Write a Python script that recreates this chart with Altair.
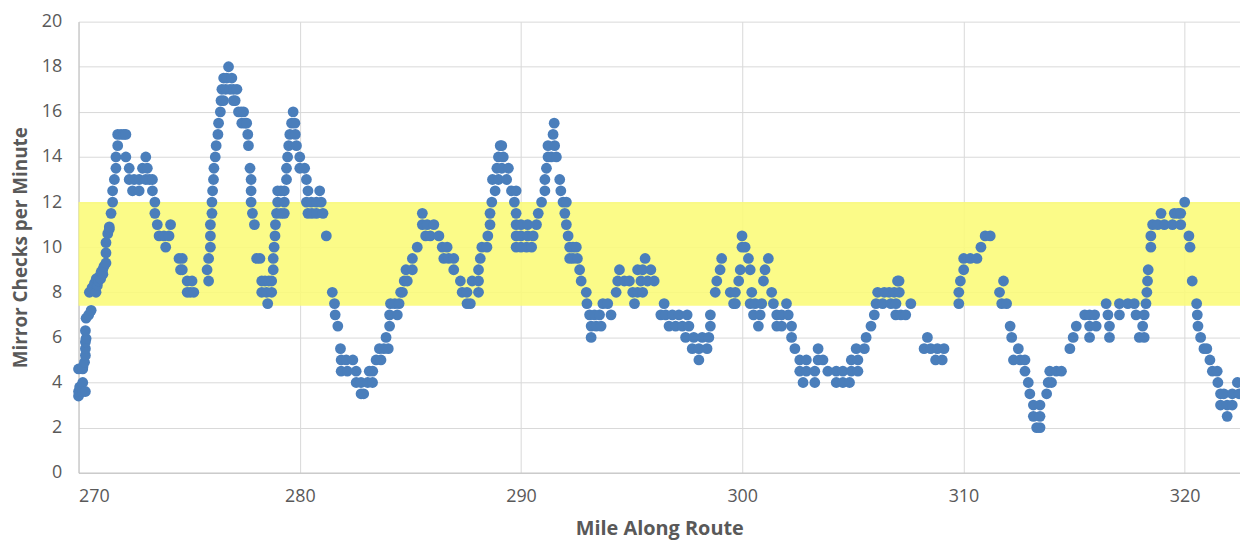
import altair as alt
import pandas as pd

# ---- data ----
x_vals = [
    # 270 - 271.6
    270.00, 270.00, 270.05, 270.19, 270.19, 270.31, 270.00, 270.19, 270.20, 270.27, 270.31, 270.31,
    270.31, 270.34, 270.31, 270.34, 270.46, 270.57, 270.49, 270.61, 270.72, 270.79, 270.80, 270.85,
    270.90, 270.94, 271.00, 271.02, 271.09, 271.10, 271.15, 271.24, 271.24, 271.24, 271.32, 271.39,
    271.39, 271.47, 271.54,
    # 271.5 - 275.2
    271.54, 271.62, 271.69, 271.69, 271.77, 271.77, 271.92, 272.05, 272.14, 272.14, 272.29, 272.29,
    272.44, 272.51, 272.74, 272.74, 272.89, 273.04, 273.11, 273.04, 273.20, 273.34, 273.34, 273.45,
    273.45, 273.56, 273.64, 273.86, 273.94, 274.09, 274.16, 274.54, 274.69, 274.61, 274.69, 274.91,
    275.13, 274.91, 275.05, 275.21,
    # 275.8 - 281.2
    275.88, 275.81, 275.88, 275.96, 275.96, 275.96, 276.03, 276.03, 276.06, 276.10, 276.12, 276.18,
    276.22, 276.30, 276.33, 276.41, 276.44, 276.48, 276.56, 276.78, 276.70, 276.93, 276.65, 276.85,
    277.00, 277.16, 276.55, 277.08, 277.00, 277.23, 277.35, 277.46, 277.38, 277.53, 277.60, 277.65,
    277.68, 277.75, 277.80, 277.80, 277.80, 277.86, 277.95, 278.05, 278.20, 278.28, 278.43, 278.28,
    278.50, 278.55, 278.73, 278.60, 278.73, 278.80, 278.80, 278.84, 278.88, 278.90, 278.95, 279.00,
    279.00, 279.15, 279.30, 279.30, 279.30, 279.15, 279.40, 279.40, 279.45, 279.50, 279.55, 279.63,
    279.70, 279.78, 279.80, 279.85, 280.00, 280.00, 280.22, 280.30, 280.37, 280.30, 280.52, 280.75,
    280.97, 280.37, 280.55, 280.75, 281.05, 280.90, 281.20,
    # 281.4 - 284.8
    281.47, 281.57, 281.60, 281.72, 281.84, 281.87, 282.10, 282.40, 281.87, 282.15, 282.55, 282.55,
    282.77, 283.07, 283.29, 282.77, 282.89, 283.14, 283.30, 283.45, 283.67, 283.60, 283.80, 284.00,
    283.90, 284.06, 284.06, 284.41, 284.10, 284.30, 284.49, 284.56, 284.72, 284.80,
    # 284.6 - 292.2
    284.64, 284.86, 285.09, 285.09, 285.31, 285.54, 285.54, 285.76, 286.06, 285.69, 285.90, 286.29,
    286.44, 286.66, 286.51, 286.73, 286.96, 286.96, 287.26, 287.34, 287.56, 287.71, 287.56, 287.79,
    288.08, 288.08, 288.08, 288.16, 288.23, 288.46, 288.50, 288.60, 288.60, 288.68, 288.83, 288.71,
    288.98, 288.91, 289.13, 289.43, 288.98, 289.20, 289.06, 289.13, 289.35, 289.57, 289.78, 289.70,
    289.78, 289.78, 289.78, 289.78, 290.00, 290.25, 290.48, 290.00, 290.30, 290.55, 290.00, 290.30,
    290.70, 290.78, 290.93, 291.08, 291.08, 291.15, 291.22, 291.37, 291.60, 291.22, 291.52, 291.45,
    291.50, 291.75, 291.80, 291.90, 292.05, 291.98, 292.05, 292.13, 292.20, 292.20,
    # 292.3 - 299.6
    292.35, 292.50, 292.35, 292.55, 292.65, 292.72, 292.95, 292.98, 293.10, 293.32, 293.55, 293.70,
    293.92, 294.07, 293.17, 293.40, 293.62, 293.17, 294.30, 294.37, 294.45, 294.67, 294.90, 295.05,
    295.13, 295.27, 295.50, 295.27, 295.50, 295.87, 295.61, 295.42, 295.72, 296.02, 296.47, 296.32,
    296.54, 296.84, 297.14, 297.51, 296.69, 296.99, 297.29, 297.59, 297.44, 297.81, 298.19, 298.49,
    297.74, 298.04, 298.41, 298.04, 298.56, 298.56, 298.78, 298.85, 299.00, 299.07, 299.46, 299.61,
    # 299.7 - 307.0
    299.69, 299.69, 299.84, 299.91, 299.99, 299.99, 300.13, 300.28, 300.36, 300.43, 300.36, 300.58,
    300.88, 300.51, 300.81, 300.73, 300.96, 301.03, 301.18, 301.33, 301.41, 301.56, 301.78, 302.08,
    301.56, 301.78, 302.00, 302.23, 302.23, 302.38, 302.60, 302.90, 303.43, 303.43, 303.65, 302.60,
    302.90, 303.28, 302.75, 303.28, 303.87, 304.25, 304.55, 304.93, 305.23, 304.25, 304.55, 304.85,
    304.93, 305.23, 305.15, 305.52, 305.60, 305.82, 305.97, 306.05, 306.12, 306.42, 306.64, 306.87,
    306.35, 306.72, 306.94, 307.02,
    # 307.1 - 314.4
    307.09, 307.10, 306.95, 307.17, 307.39, 307.62, 308.37, 308.22, 308.52, 308.82, 309.12, 308.74,
    309.04, 309.79, 309.79, 309.86, 310.01, 310.01, 310.31, 310.61, 310.79, 310.98, 311.21, 311.63,
    311.81, 311.73, 311.95, 312.11, 312.18, 312.48, 312.26, 312.56, 312.78, 312.78, 312.93, 313.00,
    313.16, 313.46, 313.16, 313.46, 313.31, 313.46, 313.76, 313.83, 313.98, 313.90, 314.20, 314.43,
    # 314.8 - 322.5
    314.81, 314.96, 315.10, 315.48, 315.70, 315.93, 315.70, 315.70, 316.00, 316.45, 316.53, 316.60,
    316.60, 317.05, 317.05, 317.43, 317.72, 317.80, 317.95, 318.17, 318.10, 318.17, 318.25, 318.29,
    318.32, 318.35, 318.47, 318.47, 318.55, 318.78, 319.08, 319.45, 319.82, 318.93, 319.53, 319.70,
    319.82, 320.00, 320.19, 320.24, 320.34, 320.54, 320.57, 320.60, 320.72, 320.87, 321.00, 321.14,
    321.25, 321.47, 321.50, 321.62, 321.77, 321.62, 321.92, 321.92, 322.15, 322.15, 322.38, 322.46,
]

y_vals = [
    # 270 - 271.6
    3.4, 3.6, 3.8, 4.0, 3.6, 3.6, 4.6, 4.6, 4.7, 4.9, 5.2, 5.5,
    5.8, 5.95, 6.3, 6.85, 7.0, 7.2, 8.0, 8.2, 8.4, 8.0, 8.6, 8.3,
    8.5, 8.7, 8.6, 8.9, 9.0, 8.8, 9.15, 9.3, 9.75, 10.2, 10.6, 10.8,
    10.9, 11.5, 12.0,
    # 271.5 - 275.2
    12.5, 13.0, 13.5, 14.0, 14.5, 15.0, 15.0, 15.0, 15.0, 14.0, 13.5, 13.0,
    12.5, 13.0, 13.0, 12.5, 13.5, 14.0, 13.5, 13.0, 13.0, 13.0, 12.5, 12.0,
    11.5, 11.0, 10.5, 10.5, 10.0, 10.5, 11.0, 9.5, 9.5, 9.0, 9.0, 8.5,
    8.5, 8.0, 8.0, 8.0,
    # 275.8 - 281.2
    8.5, 9.0, 9.5, 10.0, 10.5, 11.0, 11.5, 12.0, 12.5, 13.0, 13.5, 14.0,
    14.5, 15.0, 15.5, 16.0, 16.5, 17.0, 17.5, 18.0, 17.5, 17.5, 17.0, 17.0,
    17.0, 17.0, 16.5, 16.5, 16.5, 16.0, 16.0, 16.0, 15.5, 15.5, 15.5, 15.0,
    14.5, 13.5, 13.0, 12.5, 12.0, 11.5, 11.0, 9.5, 9.5, 8.5, 8.5, 8.0,
    8.0, 7.5, 8.0, 8.5, 8.5, 9.0, 9.5, 10.0, 10.5, 11.0, 11.5, 12.0,
    12.5, 12.5, 12.5, 12.0, 11.5, 11.5, 13.0, 13.5, 14.0, 14.5, 15.0, 15.5,
    16.0, 15.5, 15.0, 14.5, 14.0, 13.5, 13.5, 13.0, 12.5, 12.0, 12.0, 12.0,
    12.0, 11.5, 11.5, 11.5, 11.5, 12.5, 10.5,
    # 281.4 - 284.8
    8.0, 7.5, 7.0, 6.5, 5.5, 5.0, 5.0, 5.0, 4.5, 4.5, 4.5, 4.0,
    4.0, 4.0, 4.0, 3.5, 3.5, 4.5, 4.5, 5.0, 5.0, 5.5, 5.5, 5.5,
    6.0, 6.5, 7.0, 7.0, 7.5, 7.5, 7.5, 8.0, 8.5, 9.0,
    # 284.6 - 292.2
    8.0, 8.5, 9.0, 9.5, 10.0, 11.5, 11.0, 11.0, 11.0, 10.5, 10.5, 10.5,
    10.0, 10.0, 9.5, 9.5, 9.5, 9.0, 8.5, 8.0, 7.5, 7.5, 8.0, 8.5,
    8.5, 8.0, 9.0, 9.5, 10.0, 10.0, 10.5, 11.0, 11.5, 12.0, 12.5, 13.0,
    13.0, 13.5, 13.5, 13.5, 14.0, 14.0, 14.5, 14.5, 13.0, 12.5, 12.5, 12.0,
    11.5, 11.0, 10.5, 10.0, 10.0, 10.0, 10.0, 10.5, 10.5, 10.5, 11.0, 11.0,
    11.0, 11.5, 12.0, 12.5, 13.0, 13.5, 14.0, 14.0, 14.0, 14.5, 14.5, 15.0,
    15.5, 13.0, 12.5, 12.0, 12.0, 11.5, 11.0, 10.5, 10.0, 9.5,
    # 292.3 - 299.6
    10.0, 10.0, 9.5, 9.5, 9.0, 8.5, 8.0, 7.5, 7.0, 7.0, 7.0, 7.5,
    7.5, 7.0, 6.5, 6.5, 6.5, 6.0, 8.0, 8.5, 9.0, 8.5, 8.5, 8.0,
    7.5, 8.0, 8.0, 9.0, 9.0, 9.0, 9.5, 8.5, 8.5, 8.5, 7.5, 7.0,
    7.0, 7.0, 7.0, 7.0, 6.5, 6.5, 6.5, 6.5, 6.0, 6.0, 6.0, 6.0,
    5.5, 5.5, 5.5, 5.0, 6.5, 7.0, 8.0, 8.5, 9.0, 9.5, 8.0, 7.5,
    # 299.7 - 307.0
    8.0, 7.5, 8.5, 9.0, 10.5, 10.0, 10.0, 9.5, 9.0, 8.0, 7.5, 7.5,
    7.5, 7.0, 7.0, 6.5, 8.5, 9.0, 9.5, 8.0, 7.5, 7.0, 7.0, 7.0,
    6.5, 6.5, 7.5, 6.5, 6.0, 5.5, 5.0, 5.0, 5.0, 5.5, 5.0, 4.5,
    4.5, 4.5, 4.0, 4.0, 4.5, 4.5, 4.5, 4.5, 4.5, 4.0, 4.0, 4.0,
    5.0, 5.0, 5.5, 5.5, 6.0, 6.5, 7.0, 7.5, 8.0, 8.0, 8.0, 8.0,
    7.5, 7.5, 7.0, 8.5,
    # 307.1 - 314.4
    8.5, 8.0, 7.5, 7.0, 7.0, 7.5, 6.0, 5.5, 5.5, 5.5, 5.5, 5.0,
    5.0, 7.5, 8.0, 8.5, 9.0, 9.5, 9.5, 9.5, 10.0, 10.5, 10.5, 8.0,
    8.5, 7.5, 7.5, 6.5, 6.0, 5.5, 5.0, 5.0, 5.0, 4.5, 4.0, 3.5,
    3.0, 3.0, 2.5, 2.5, 2.0, 2.0, 3.5, 4.0, 4.0, 4.5, 4.5, 4.5,
    # 314.8 - 322.5
    5.5, 6.0, 6.5, 7.0, 7.0, 7.0, 6.0, 6.5, 6.5, 7.5, 7.0, 6.5,
    6.0, 7.5, 7.0, 7.5, 7.5, 7.0, 6.0, 6.0, 6.5, 7.0, 7.5, 8.0,
    8.5, 9.0, 10.0, 10.5, 11.0, 11.0, 11.0, 11.0, 11.0, 11.5, 11.5, 11.5,
    11.5, 12.0, 10.5, 10.0, 8.5, 7.5, 7.0, 6.5, 6.0, 5.5, 5.5, 5.0,
    4.5, 4.5, 4.0, 3.5, 3.5, 3.0, 3.0, 2.5, 3.0, 3.5, 4.0, 3.5,
]

band_low = [7.4]
band_high = [12.0]

x_ticks = [270, 280, 290, 300, 310, 320]
y_ticks = [0, 2, 4, 6, 8, 10, 12, 14, 16, 18, 20]

x_title = "Mile Along Route"
y_title = "Mirror Checks per Minute"

points_df = pd.DataFrame({"mile": x_vals, "checks": y_vals})
band_df = pd.DataFrame({"lo": band_low, "hi": band_high})

W, H = 1169, 454
FONT = "Open Sans"
GRAY = "#595959"

x_scale = alt.Scale(domain=[270, 322.5], nice=False, zero=False)
y_scale = alt.Scale(domain=[0, 20], nice=False, zero=True)

x_axis = alt.Axis(values=x_ticks, title=x_title, grid=True, gridColor="#d9d9d9",
                  domainColor="#bfbfbf", ticks=False, labelPadding=15,
                  labelFontSize=18, labelColor=GRAY, labelFont=FONT,
                  titleFont=FONT, titleFontSize=20, titleFontWeight="bold",
                  titleColor=GRAY, titlePadding=13)
y_axis = alt.Axis(values=y_ticks, title=y_title, grid=True, gridColor="#d9d9d9",
                  domainColor="#bfbfbf", ticks=False, labelPadding=17,
                  labelFontSize=18, labelColor=GRAY, labelFont=FONT,
                  titleFont=FONT, titleFontSize=19, titleFontWeight="bold",
                  titleColor=GRAY, titlePadding=11)

band = alt.Chart(band_df).mark_rect(color="#FAFA78", opacity=0.88).encode(
    y=alt.Y("lo:Q", scale=y_scale, axis=y_axis),
    y2="hi:Q",
    x=alt.value(0),
    x2=alt.value(W),
)

points = alt.Chart(points_df).mark_circle(size=118, color="#4A7EBB", opacity=1).encode(
    x=alt.X("mile:Q", scale=x_scale, axis=x_axis),
    y=alt.Y("checks:Q", scale=y_scale, axis=y_axis),
)

chart = alt.layer(band, points).properties(
    width=W, height=H,
    autosize=alt.AutoSizeParams(type="none"),
    padding={"left": 71, "top": 12, "right": 0, "bottom": 67},
).configure_view(stroke=None, clip=False)

chart.save("out.html", embed_options={"renderer": "svg", "actions": False})
